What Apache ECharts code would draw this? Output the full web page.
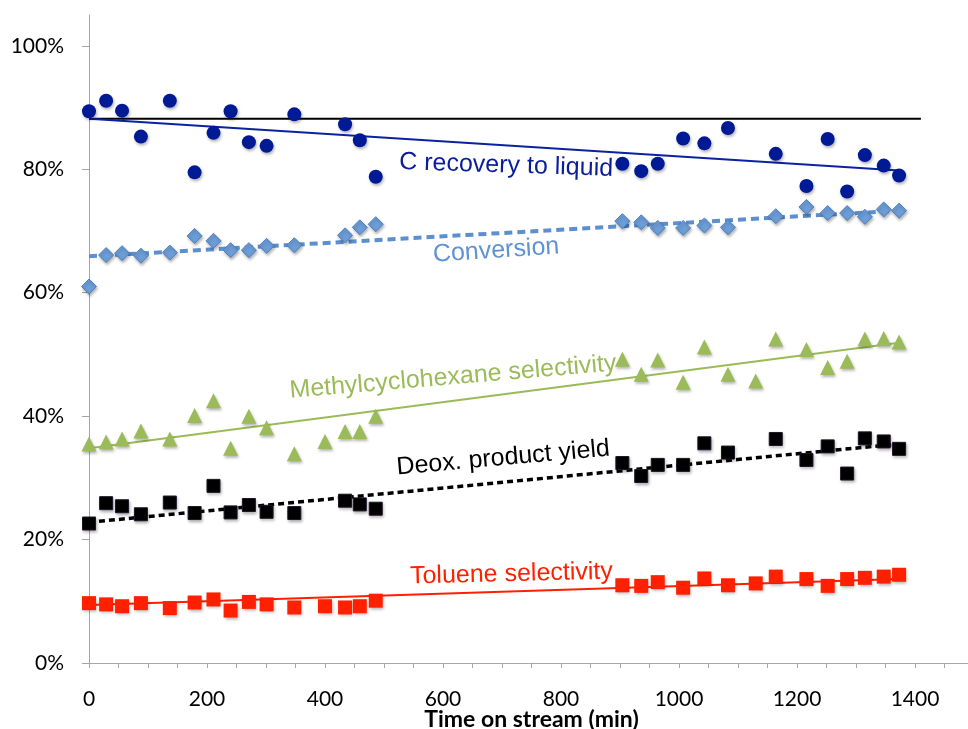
<!DOCTYPE html>
<html><head><meta charset="utf-8">
<script src="https://cdn.jsdelivr.net/npm/echarts@6/dist/echarts.min.js"></script>
<style>html,body{margin:0;padding:0;background:#fff}#c{width:968px;height:729px}</style>
</head><body><div id="c"></div>
<script>
// Time on stream (min)
const times = [0, 29, 56, 88, 137, 179, 211, 240, 271, 301, 348, 400, 434, 459, 486,
  904, 936, 964, 1007, 1043, 1083, 1130, 1164, 1216, 1252, 1285, 1315, 1347, 1373];
// values in %
const cRecovery = [89.4, 91.1, 89.5, 85.3, 91.1, 79.5, 85.9, 89.4, 84.4, 83.8, 88.9, null, 87.3, 84.7, 78.8,
  80.9, 79.7, 80.9, 85.0, 84.2, 86.7, null, 82.5, 77.3, 84.9, 76.4, 82.3, 80.6, 79.0];
const conversion = [61.0, 66.1, 66.4, 66.0, 66.5, 69.2, 68.4, 66.9, 66.9, 67.6, 67.7, null, 69.3, 70.6, 71.1,
  71.6, 71.4, 70.5, 70.5, 70.9, 70.6, null, 72.4, 73.9, 72.9, 72.9, 72.3, 73.5, 73.3];
const mchSelectivity = [35.5, 35.8, 36.3, 37.6, 36.3, 40.1, 42.5, 34.8, 40.0, 38.1, 33.9, 35.9, 37.5, 37.5, 40.0,
  49.2, 46.8, 49.1, 45.5, 51.2, 46.8, 45.7, 52.5, 50.8, 47.9, 48.9, 52.5, 52.6, 52.0];
const deoxYield = [22.6, 25.9, 25.4, 24.1, 26.0, 24.3, 28.7, 24.4, 25.6, 24.5, 24.3, null, 26.3, 25.7, 25.0,
  32.4, 30.3, 32.1, 32.1, 35.6, 34.1, null, 36.3, 32.9, 35.1, 30.7, 36.4, 35.9, 34.7];
const tolSelectivity = [9.7, 9.5, 9.2, 9.7, 8.9, 9.8, 10.3, 8.5, 9.9, 9.5, 9.0, 9.2, 9.0, 9.2, 10.1,
  12.6, 12.5, 13.1, 12.2, 13.7, 12.6, 12.9, 14.0, 13.6, 12.5, 13.6, 13.8, 14.0, 14.3];

// trend lines (start, end)
const trendTimes = [0, 1373];
const refTimes = [0, 1410];
const refLine = [88.2, 88.2];
const trendC = [88.2, 79.8];
const trendConv = [65.9, 73.3];
const trendMCH = [34.8, 51.9];
const trendDeox = [22.8, 35.5];
const trendTol = [9.4, 13.6];

// axis ticks
const yTickValues = [0, 20, 40, 60, 80, 100];
const xLabelValues = [0, 200, 400, 600, 800, 1000, 1200, 1400];
const xTickValues = [0, 50, 100, 150, 200, 250, 300, 350, 400, 450, 500, 550, 600, 650, 700, 750,
  800, 850, 900, 950, 1000, 1050, 1100, 1150, 1200, 1250, 1300, 1350, 1400, 1450, 1500];

// text labels: text, anchor time, anchor value, angle (deg)
const labelTexts = ['C recovery to liquid', 'Conversion', 'Methylcyclohexane selectivity', 'Deox. product yield', 'Toluene selectivity'];
const labelTimes = [707, 690, 617, 702, 716];
const labelValues = [80.6, 66.8, 46.3, 33.2, 14.4];
const labelAngles = [-1.8, 3.8, 4.8, 5.1, 1.4];
const labelColors = ['#0a1e9a', '#5f93d3', '#9bbb59', '#000000', '#ff2000'];

function pairs(xs, ys) {
  const out = [];
  xs.forEach((x, i) => { if (ys[i] !== null && ys[i] !== undefined) out.push([x, ys[i]]); });
  return out;
}
const shadow = { shadowBlur: 3, shadowColor: 'rgba(0,0,0,0.3)', shadowOffsetX: 1, shadowOffsetY: 2 };
function scatter(name, ys, symbol, size, style) {
  return { name, type: 'scatter', data: pairs(times, ys), symbol, symbolSize: size, z: 5,
    itemStyle: Object.assign({ opacity: 1 }, shadow, style), emphasis: { disabled: true } };
}
function trend(name, xs, ys, color, width, type) {
  return { name, type: 'line', data: pairs(xs, ys), symbol: 'none', z: 3, silent: true,
    lineStyle: { color, width, type: type || 'solid' } };
}
const axisGray = '#a6a6a6';
const chart = echarts.init(document.getElementById('c'), null, { renderer: 'canvas' });
chart.setOption({
  animation: false,
  backgroundColor: '#ffffff',
  grid: { left: 89, right: -6, top: 15, bottom: 66, containLabel: false, outerBoundsMode: 'none' },
  xAxis: {
    type: 'value', min: 0, max: 1500,
    axisLine: { show: true, onZero: false, lineStyle: { color: axisGray, width: 1 } },
    axisTick: { show: true, customValues: xTickValues, length: 5, lineStyle: { color: axisGray } },
    axisLabel: { customValues: xLabelValues, formatter: v => String(v), fontFamily: 'Lato', fontSize: 21, color: '#000', margin: 26 },
    splitLine: { show: false },
    name: 'Time on stream (min)', nameLocation: 'middle', nameGap: 45, nameMoveOverlap: false,
    nameTextStyle: { fontFamily: 'Lato', fontWeight: 'bold', fontSize: 23, color: '#000' }
  },
  yAxis: {
    type: 'value', min: 0, max: 105,
    axisLine: { show: true, lineStyle: { color: axisGray, width: 1 } },
    axisTick: { show: true, customValues: yTickValues, length: 7, lineStyle: { color: axisGray } },
    axisLabel: { customValues: yTickValues, formatter: '{value}%', fontFamily: 'Lato', fontSize: 21, color: '#000', margin: 25 },
    splitLine: { show: false }
  },
  series: [
    trend('ref', refTimes, refLine, '#000000', 2),
    trend('C trend', trendTimes, trendC, '#0a22a0', 2),
    trend('Conv trend', trendTimes, trendConv, '#5b8fcf', 4, [8, 5]),
    trend('MCH trend', trendTimes, trendMCH, '#9bbb59', 2),
    trend('Deox trend', trendTimes, trendDeox, '#000000', 3.5, [6, 4]),
    trend('Tol trend', trendTimes, trendTol, '#ff2000', 2),
    scatter('C recovery to liquid', cRecovery, 'circle', 14, { color: '#001a96' }),
    scatter('Conversion', conversion, 'diamond', 15, { color: '#6c9dd7', borderColor: '#4f81bd', borderWidth: 1 }),
    scatter('Methylcyclohexane selectivity', mchSelectivity, 'triangle', 15, { color: '#9bbb59' }),
    scatter('Deox. product yield', deoxYield, 'rect', 13, { color: '#000000', borderColor: '#1e1428', borderWidth: 1 }),
    scatter('Toluene selectivity', tolSelectivity, 'rect', 14, { color: '#ff2000' })
  ]
});
const graphics = labelTexts.map((t, i) => {
  const p = chart.convertToPixel({ gridIndex: 0 }, [labelTimes[i], labelValues[i]]);
  return { type: 'text', x: p[0], y: p[1], rotation: labelAngles[i] * Math.PI / 180, z: 10, silent: true,
    style: { text: t, fill: labelColors[i], font: '25px "Liberation Sans", Arial, sans-serif',
      align: 'center', verticalAlign: 'middle', textAlign: 'center', textVerticalAlign: 'middle' } };
});
chart.setOption({ graphic: graphics });
</script>
</body></html>
